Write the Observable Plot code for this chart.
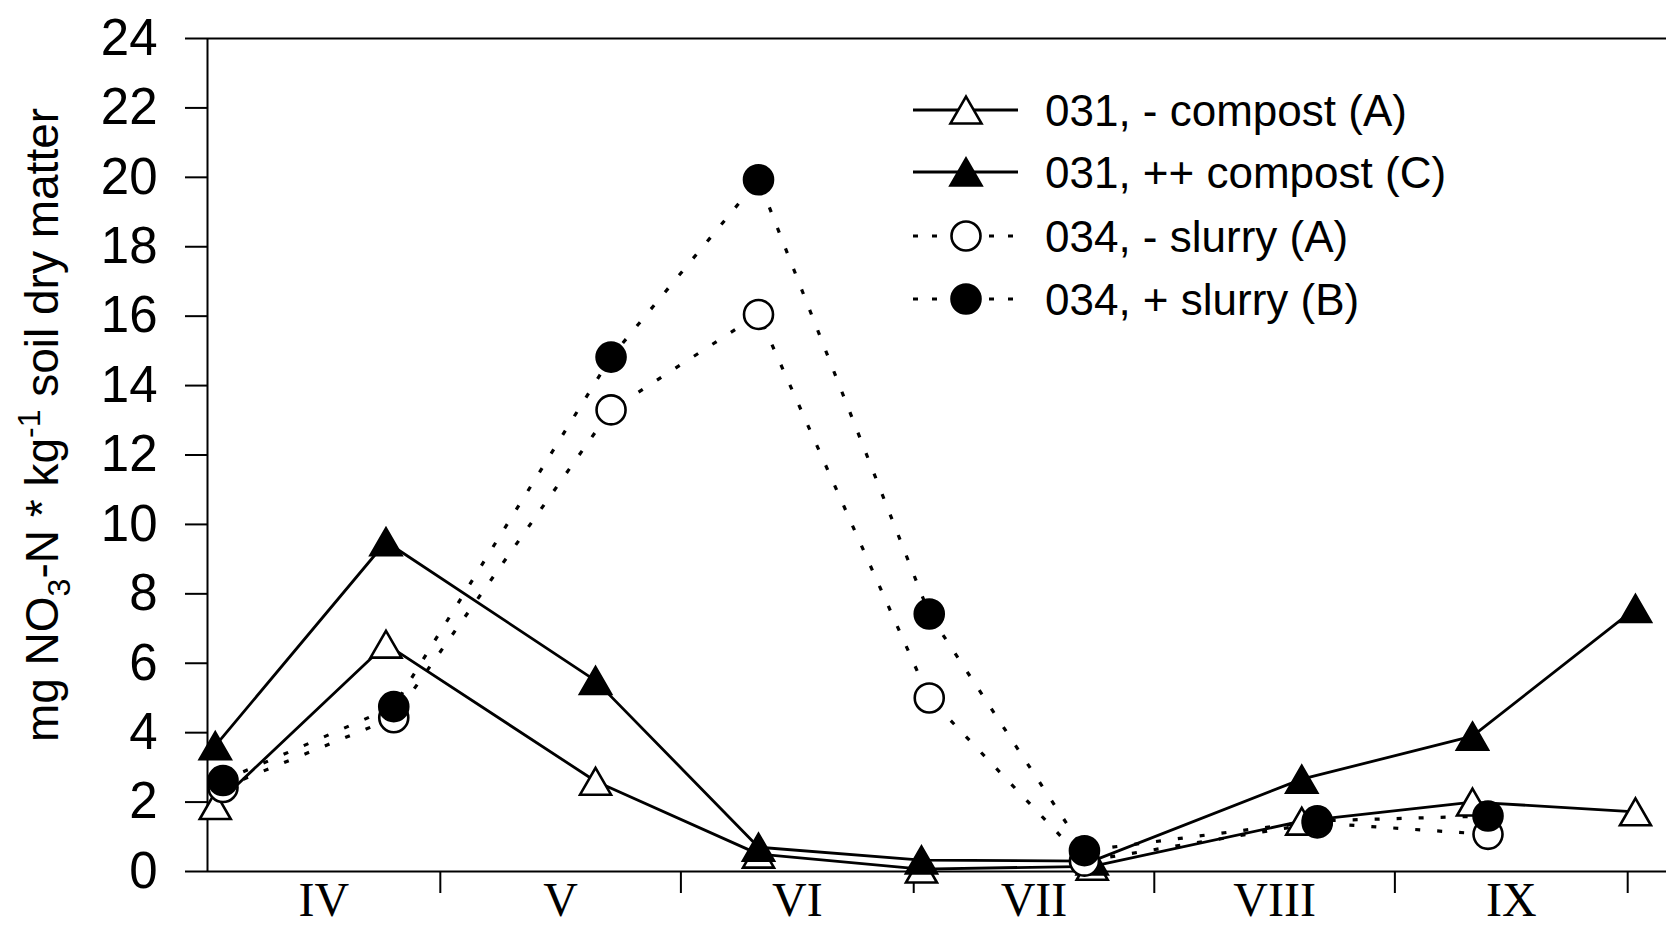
<!DOCTYPE html>
<html><head><meta charset="utf-8">
<script src="https://cdn.jsdelivr.net/npm/d3@7"></script>
<script src="https://cdn.jsdelivr.net/npm/@observablehq/plot@0.6"></script>
<style>
html,body{margin:0;padding:0;background:#fff;overflow:hidden}
#chart{position:relative;width:1666px;height:926px}
</style></head><body><div id="chart"></div>
<script>
// ---- data ----
const dates031 = ["1995-04-02","1995-04-24","1995-05-21","1995-06-11","1995-07-02","1995-07-24","1995-08-20","1995-09-11","1995-10-02"];
const compostMinus = [1.9, 6.55, 2.6, 0.5, 0.07, 0.15, 1.45, 2.0, 1.72];
const compostPlus  = [3.62, 9.5, 5.5, 0.7, 0.33, 0.3, 2.66, 3.9, 7.58];
const dates034 = ["1995-04-03","1995-04-25","1995-05-23","1995-06-11","1995-07-03","1995-07-23","1995-08-22","1995-09-13"];
const slurryMinus = [2.42, 4.43, 13.3, 16.05, 5.0, 0.3, 1.4, 1.07];
const slurryPlus  = [2.62, 4.75, 14.82, 19.93, 7.42, 0.6, 1.46, 1.6];
const seriesNames = ["031, - compost (A)", "031, ++ compost (C)", "034, - slurry (A)", "034, + slurry (B)"];
const monthLabels = ["IV","V","VI","VII","VIII","IX"];
const monthStarts = ["1995-04-01","1995-05-01","1995-06-01","1995-07-01","1995-08-01","1995-09-01","1995-10-01"];
const yTicks = [0,2,4,6,8,10,12,14,16,18,20,22,24];
const yLabelParts = ["mg NO", "3", "-N * kg", "-1", " soil dry matter"];

// ---- build ----
const toDate = s => new Date(s + "T00:00:00Z");
const styles = [
  {symbol: "triangle", fill: "white", dash: null, r: 11.5, dy: 4.5},
  {symbol: "triangle", fill: "black", dash: null, r: 11.5, dy: 4.5},
  {symbol: "circle", fill: "white", dash: "5,17", r: 14.5, dy: 0},
  {symbol: "circle", fill: "black", dash: "5,17", r: 14.5, dy: 0}
];
const seriesData = [
  {dates: dates031, values: compostMinus},
  {dates: dates031, values: compostPlus},
  {dates: dates034, values: slurryMinus},
  {dates: dates034, values: slurryPlus}
].map((s, k) => s.values.map((v, i) => ({series: seriesNames[k], date: toDate(s.dates[i]), value: v})));

const starts = monthStarts.map(toDate);
const mids = monthLabels.map((_, i) => new Date((+starts[i] + +starts[i + 1]) / 2));
const labelByTime = new Map(mids.map((d, i) => [+d, monthLabels[i]]));
const xDomain = [starts[0], toDate("1995-10-06")];

const marks = [
  Plot.ruleY([0, 24], {stroke: "black", strokeWidth: 2}),
  Plot.ruleX([xDomain[0]], {stroke: "black", strokeWidth: 2}),
  Plot.axisY({ticks: yTicks, tickSize: 22, tickPadding: 28, tickFormat: d => String(d), fontSize: 51, strokeWidth: 2, label: null}),
  Plot.axisX({ticks: starts.slice(1), tickSize: 22, tickFormat: () => "", strokeWidth: 2, label: null}),
  Plot.axisX({ticks: mids, tickSize: 0, tickPadding: 10, tickFormat: d => labelByTime.get(+d), fontSize: 48, fontFamily: "'Liberation Serif', 'Times New Roman', serif", label: null})
];
seriesData.forEach((data, k) => {
  const st = styles[k];
  marks.push(Plot.line(data, {x: "date", y: "value", stroke: "black", strokeWidth: st.dash ? 3.2 : 2.8, strokeDasharray: st.dash, strokeLinecap: "butt"}));
  marks.push(Plot.dot(data, {x: "date", y: "value", symbol: st.symbol, r: st.r, dy: st.dy, fill: st.fill, stroke: "black", strokeWidth: 2.6}));
});

const chart = Plot.plot({
  width: 1666, height: 926,
  marginLeft: 207, marginRight: 0, marginTop: 38, marginBottom: 55,
  x: {type: "utc", domain: xDomain},
  y: {domain: [0, 24]},
  style: {fontFamily: "'Liberation Sans', Arial, sans-serif", background: "white", color: "black", overflow: "visible"},
  marks
});
document.getElementById("chart").appendChild(chart);

// ---- y-axis title with sub/superscript ----
const svg = d3.select(chart);
const t = svg.append("text")
  .attr("transform", "translate(58,425) rotate(-90)")
  .attr("text-anchor", "middle")
  .attr("font-size", 46)
  .attr("fill", "black")
  .attr("font-family", "'Liberation Sans', Arial, sans-serif");
t.append("tspan").text(yLabelParts[0]);
t.append("tspan").attr("font-size", 32).attr("dy", 12).text(yLabelParts[1]);
t.append("tspan").attr("dy", -12).text(yLabelParts[2]);
t.append("tspan").attr("font-size", 32).attr("dy", -18).text(yLabelParts[3]);
t.append("tspan").attr("dy", 18).text(yLabelParts[4]);

// ---- legend ----
const legendRows = [110, 172, 236, 299];
const lg = svg.append("g").attr("font-family", "'Liberation Sans', Arial, sans-serif").attr("text-anchor", "start");
seriesNames.forEach((name, k) => {
  const st = styles[k];
  const y = legendRows[k];
  lg.append("line").attr("x1", 913).attr("x2", 1018).attr("y1", y).attr("y2", y)
    .attr("stroke", "black").attr("stroke-width", st.dash ? 3.2 : 2.8)
    .attr("stroke-dasharray", st.dash ? "5,14" : null);
  const sym = d3.symbol(st.symbol === "triangle" ? d3.symbolTriangle : d3.symbolCircle, Math.PI * st.r * st.r);
  lg.append("path").attr("d", sym()).attr("transform", `translate(966,${y + st.dy})`)
    .attr("fill", st.fill).attr("stroke", "black").attr("stroke-width", 2.6);
  lg.append("text").attr("x", 1045).attr("y", y + 16).attr("font-size", 44).attr("fill", "black")
    .attr("text-anchor", "start").text(name);
});
</script></body></html>
